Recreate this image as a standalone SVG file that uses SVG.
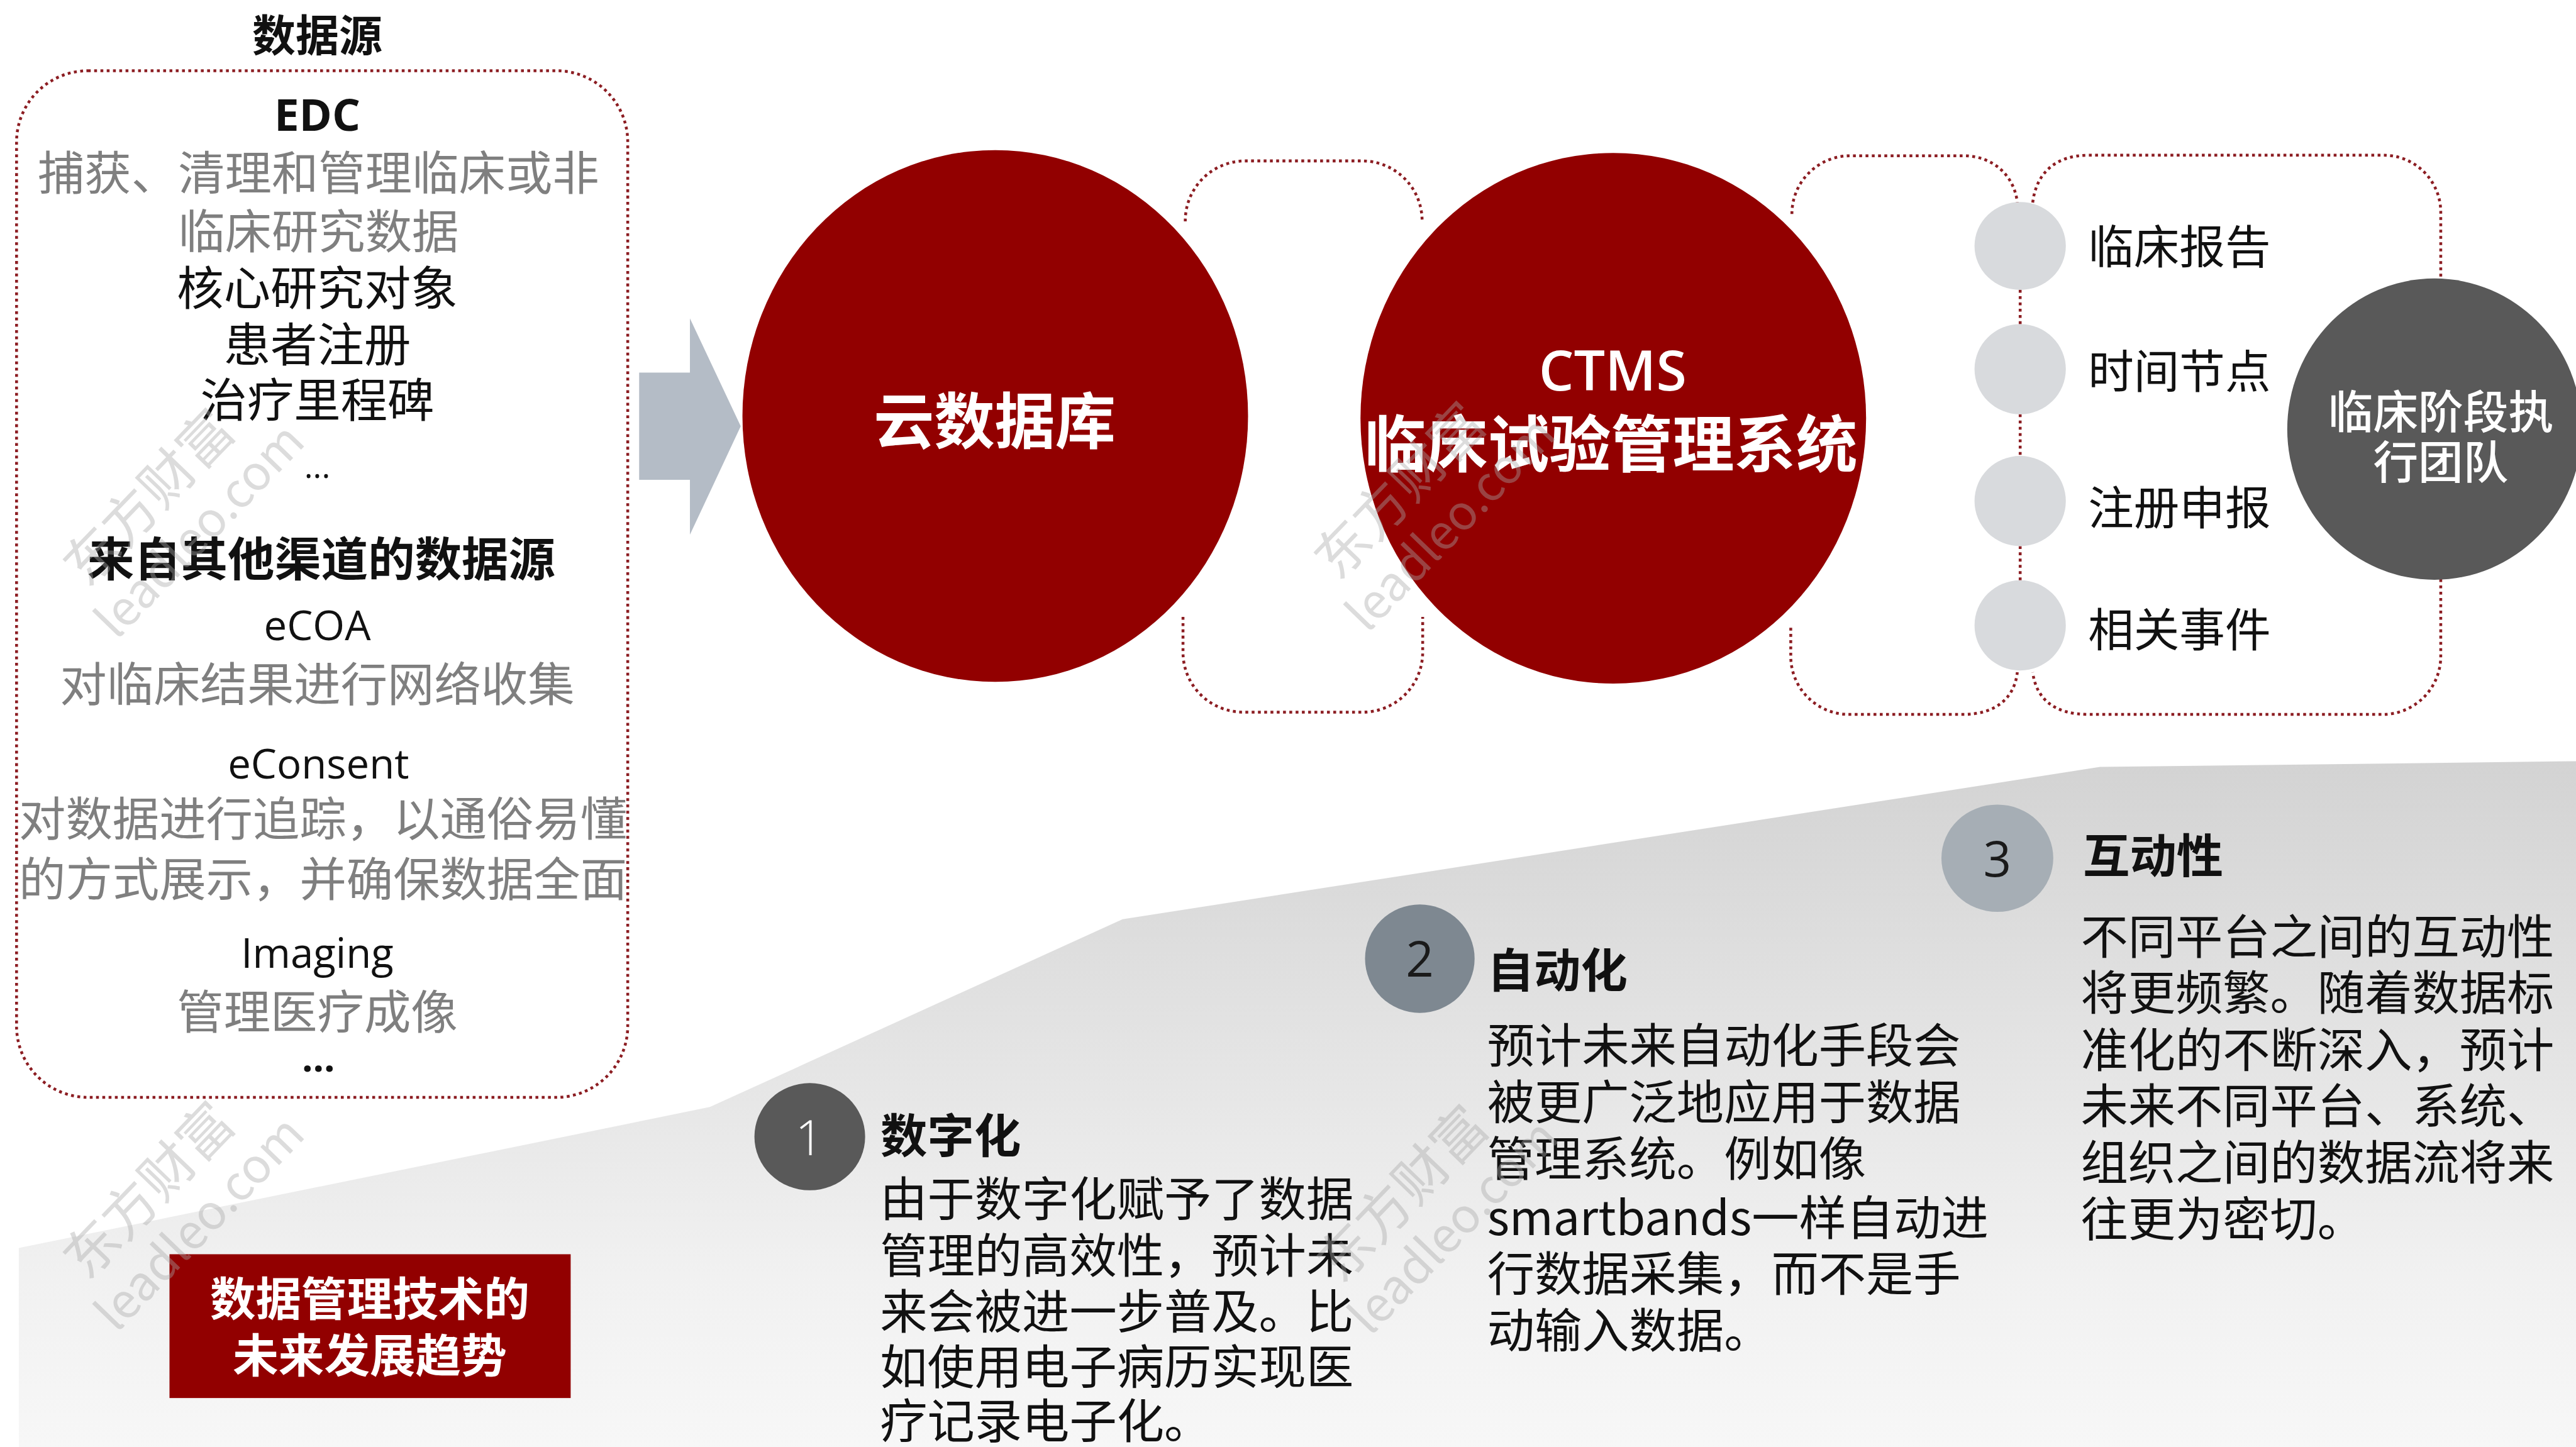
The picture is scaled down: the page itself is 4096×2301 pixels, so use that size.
<svg xmlns="http://www.w3.org/2000/svg" width="4096" height="2301" viewBox="0 0 4096 2301">
<defs>
<linearGradient id="band" gradientUnits="userSpaceOnUse" x1="0" y1="1334" x2="0" y2="2536">
<stop offset="0" stop-color="#d3d3d3"/>
<stop offset="0.75" stop-color="#f1f1f1"/>
<stop offset="1" stop-color="#f7f7f7"/>
</linearGradient>
<style>
.cj{font-family:"Noto Sans CJK SC","Noto Sans",sans-serif}
.lt{font-family:"Open Sans","Noto Sans CJK SC",sans-serif}
.dot{fill:none;stroke:#8c1d22;stroke-width:5;stroke-dasharray:5 6}
.gray{fill:#7f7f7f}
.blk{fill:#111}
.wht{fill:#fff}
.b{font-weight:bold}
.mid{text-anchor:middle}
.wm{fill:#a8a8a8;fill-opacity:0.4;font-family:"Noto Sans CJK SC",sans-serif}
</style>
</defs>
<rect width="4096" height="2301" fill="#fff"/>
<g transform="scale(0.9074)">
<polygon id="trend-band" points="33,2536 33,2187 1244,1940 1967,1611 3680,1344 4514,1334 4514,2536" fill="url(#band)"/>

<g id="connectors">
<rect x="29" y="124" width="1071" height="1799" rx="125" class="dot"/>
<path class="dot" d="M2077,388 A105,105 0 0 1 2182,282 L2387,282 A105,105 0 0 1 2492,387"/>
<path class="dot" d="M2073,1081 L2073,1143 A105,105 0 0 0 2178,1248 L2388,1248 A105,105 0 0 0 2493,1143 L2493,1081"/>
<path class="dot" d="M3140,375 A102,102 0 0 1 3242,273 L3440,273 C3495,273 3530,310 3535,355"/>
<path class="dot" d="M3562,355 C3568,305 3600,272 3660,272 L4177,272 A100,100 0 0 1 4277,372 L4277,490"/>
<path class="dot" d="M4277,1015 L4277,1150 A102,102 0 0 1 4175,1252 L3660,1252 C3600,1252 3568,1225 3562,1178"/>
<path class="dot" d="M3138,1100 L3138,1150 A102,102 0 0 0 3240,1252 L3440,1252 C3495,1252 3530,1225 3535,1178"/>
<path class="dot" d="M3540,508 L3540,568 M3540,726 L3540,799 M3540,957 L3540,1017"/>
<polygon id="arrow" points="1120,653 1209,653 1209,558 1298,747 1209,937 1209,841 1120,841" fill="#b4bcc6"/>
</g>

<g id="data-sources">
<text class="cj b mid blk" x="556" y="90" font-size="76">数据源</text>
<text class="lt b mid blk" x="556" y="229" font-size="78">EDC</text>
<text class="cj mid gray" x="558" y="333" font-size="82">捕获、清理和管理临床或非</text>
<text class="cj mid gray" x="558" y="435" font-size="82">临床研究数据</text>
<text class="cj mid blk" x="556" y="535" font-size="82">核心研究对象</text>
<text class="cj mid blk" x="556" y="634" font-size="82">患者注册</text>
<text class="cj mid blk" x="556" y="731" font-size="82">治疗里程碑</text>
<text class="lt mid blk" x="556" y="838" font-size="58">...</text>
<text class="cj b mid blk" x="563" y="1009" font-size="82">来自其他渠道的数据源</text>
<text class="lt mid blk" x="556" y="1122" font-size="72">eCOA</text>
<text class="cj mid gray" x="556" y="1229" font-size="82">对临床结果进行网络收集</text>
<text class="lt mid blk" x="558" y="1364" font-size="72">eConsent</text>
<text class="cj mid gray" x="566" y="1465" font-size="82">对数据进行追踪，以通俗易懂</text>
<text class="cj mid gray" x="566" y="1570" font-size="82">的方式展示，并确保数据全面</text>
<text class="lt mid blk" x="556" y="1696" font-size="72">Imaging</text>
<text class="cj mid gray" x="556" y="1803" font-size="82">管理医疗成像</text>
<text class="lt b mid blk" x="558" y="1878" font-size="68">...</text>
</g>

<g id="cloud-db">
<ellipse cx="1744" cy="729" rx="443" ry="466" fill="#920000"/>
<text class="cj b mid wht" x="1743" y="777" font-size="106">云数据库</text>
</g>

<g id="ctms">
<ellipse cx="2827" cy="733" rx="443" ry="465" fill="#920000"/>
<text class="lt mid wht" x="2826" y="684" font-size="97" font-weight="600">CTMS</text>
<text class="cj b mid wht" x="2823" y="818" font-size="108">临床试验管理系统</text>
</g>

<g id="item-report">
<ellipse cx="3540" cy="431" rx="80" ry="77" fill="#d8dadd"/>
<text class="cj blk" x="3659" y="462" font-size="80">临床报告</text>
</g>
<g id="item-timeline">
<ellipse cx="3540" cy="647" rx="80" ry="79" fill="#d8dadd"/>
<text class="cj blk" x="3659" y="680" font-size="80">时间节点</text>
</g>
<g id="item-registration">
<ellipse cx="3540" cy="878" rx="80" ry="79" fill="#d8dadd"/>
<text class="cj blk" x="3659" y="919" font-size="80">注册申报</text>
</g>
<g id="item-events">
<ellipse cx="3540" cy="1096" rx="80" ry="79" fill="#d8dadd"/>
<text class="cj blk" x="3659" y="1133" font-size="80">相关事件</text>
</g>

<g id="team">
<ellipse cx="4266" cy="752" rx="258" ry="264" fill="#595959"/>
<text class="cj mid wht" x="4277" y="750" font-size="79" font-weight="500">临床阶段执</text>
<text class="cj mid wht" x="4277" y="839" font-size="79" font-weight="500">行团队</text>
</g>

<g id="trends-title">
<rect x="297" y="2198" width="703" height="252" fill="#920000"/>
<text class="cj b mid wht" x="648" y="2306" font-size="80">数据管理技术的</text>
<text class="cj b mid wht" x="648" y="2405" font-size="80">未来发展趋势</text>
</g>

<g id="trend-1">
<ellipse cx="1419" cy="1992" rx="97" ry="94" fill="#595959"/>
<text class="lt mid wht" x="1418" y="2024" font-size="86" font-weight="300">1</text>
<text class="cj b blk" x="1543" y="2020" font-size="82">数字化</text>
<g class="cj blk" font-size="83">
<text x="1542" y="2131">由于数字化赋予了数据</text>
<text x="1542" y="2230">管理的高效性，预计未</text>
<text x="1542" y="2329">来会被进一步普及。比</text>
<text x="1542" y="2426">如使用电子病历实现医</text>
<text x="1542" y="2520">疗记录电子化。</text>
</g>
</g>

<g id="trend-2">
<ellipse cx="2488" cy="1680" rx="96" ry="95" fill="#7e8891"/>
<text class="lt mid" fill="#1a1a1a" x="2488" y="1712" font-size="86">2</text>
<text class="cj b blk" x="2606" y="1730" font-size="82">自动化</text>
<g class="cj blk" font-size="83">
<text x="2606" y="1863">预计未来自动化手段会</text>
<text x="2606" y="1962">被更广泛地应用于数据</text>
<text x="2606" y="2061">管理系统。例如像</text>
<text x="2606" y="2164">smartbands一样自动进</text>
<text x="2606" y="2262">行数据采集，而不是手</text>
<text x="2606" y="2362">动输入数据。</text>
</g>
</g>

<g id="trend-3">
<ellipse cx="3500" cy="1504" rx="98" ry="94" fill="#a6aeb5"/>
<text class="lt mid" fill="#1a1a1a" x="3500" y="1536" font-size="86">3</text>
<text class="cj b blk" x="3650" y="1530" font-size="82">互动性</text>
<g class="cj blk" font-size="83">
<text x="3646" y="1672">不同平台之间的互动性</text>
<text x="3646" y="1770">将更频繁。随着数据标</text>
<text x="3646" y="1870">准化的不断深入，预计</text>
<text x="3646" y="1968">未来不同平台、系统、</text>
<text x="3646" y="2067">组织之间的数据流将来</text>
<text x="3646" y="2167">往更为密切。</text>
</g>
</g>

<g id="watermarks">
<g transform="translate(153,1032) rotate(-46)"><text class="wm" font-size="95">东方财富</text><text class="wm" x="-30" y="100" font-size="84">leadleo.com</text></g>
<g transform="translate(2345,1020) rotate(-46)"><text class="wm" font-size="95">东方财富</text><text class="wm" x="-30" y="100" font-size="84">leadleo.com</text></g>
<g transform="translate(153,2246) rotate(-46)"><text class="wm" font-size="95">东方财富</text><text class="wm" x="-30" y="100" font-size="84">leadleo.com</text></g>
<g transform="translate(2350,2252) rotate(-46)"><text class="wm" font-size="95">东方财富</text><text class="wm" x="-30" y="100" font-size="84">leadleo.com</text></g>
</g>
</g>
</svg>
